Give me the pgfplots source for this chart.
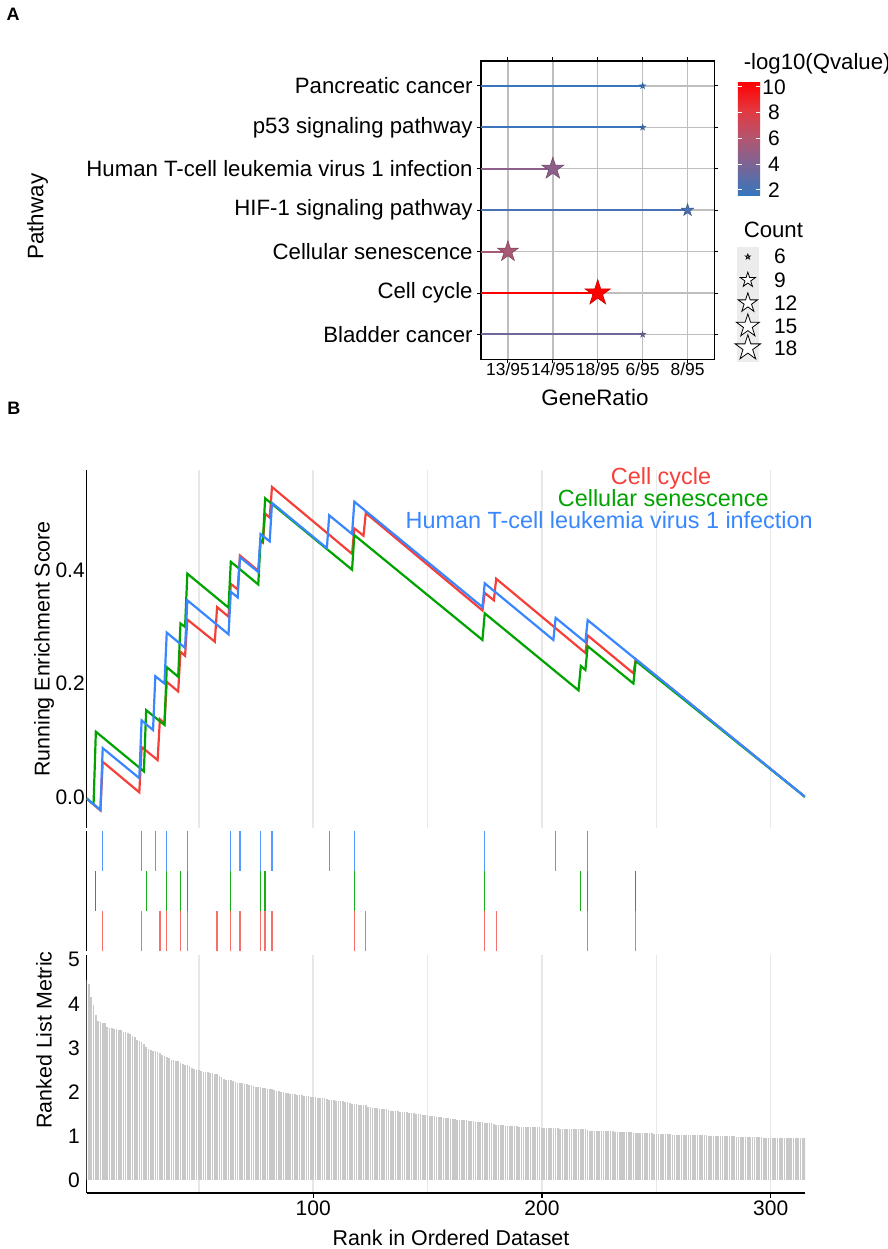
\documentclass[border=0pt]{standalone}
\usepackage{fontspec}
\setmainfont{Liberation Sans}
\usepackage{pgfplots}
\pgfplotsset{compat=1.18}
\usepackage{pgfplotstable}
\usetikzlibrary{calc}
\pgfkeys{/pgf/number format/assume math mode=true}

\definecolor{esred}{RGB}{245,64,58}
\definecolor{esgreen}{RGB}{0,163,0}
\definecolor{esblue}{RGB}{56,135,255}
\definecolor{gridA}{RGB}{190,190,190}
\definecolor{gridB}{RGB}{232,232,232}
\definecolor{barg}{RGB}{200,200,200}
\definecolor{keybg}{RGB}{236,236,236}

\newcommand\FS[1]{\fontsize{#1}{#1}\selectfont}

% filled five-pointed star
\pgfdeclareplotmark{gstar}{%
  \pgfpathmoveto{\pgfpointpolar{90}{\pgfplotmarksize}}%
  \pgfpathlineto{\pgfpointpolar{126}{0.382*\pgfplotmarksize}}%
  \pgfpathlineto{\pgfpointpolar{162}{\pgfplotmarksize}}%
  \pgfpathlineto{\pgfpointpolar{198}{0.382*\pgfplotmarksize}}%
  \pgfpathlineto{\pgfpointpolar{234}{\pgfplotmarksize}}%
  \pgfpathlineto{\pgfpointpolar{270}{0.382*\pgfplotmarksize}}%
  \pgfpathlineto{\pgfpointpolar{306}{\pgfplotmarksize}}%
  \pgfpathlineto{\pgfpointpolar{342}{0.382*\pgfplotmarksize}}%
  \pgfpathlineto{\pgfpointpolar{18}{\pgfplotmarksize}}%
  \pgfpathlineto{\pgfpointpolar{54}{0.382*\pgfplotmarksize}}%
  \pgfpathclose
  \pgfusepathqfillstroke
}

\pgfplotsset{
  colormap={qv}{rgb255=(54,118,190) rgb255=(118,102,152) rgb255=(178,86,112) rgb255=(228,56,64) rgb255=(255,0,0)},
}

% panel A: x = GeneRatio category, y = pathway, q = -log10(Qvalue), s = star radius (Count)
\pgfplotstableread{
x y q s
4 7 1.7 1.5
4 6 1.8 1.5
2 5 4.6 5.75
5 4 2.3 3.2
1 3 5.6 5.45
3 2 10.4 6.7
4 1 3.6 1.5
}\lolli

\pgfplotstableread{
y s
-256.7 1.3
-280 3.95
-303 5.1
-326 6.05
-348 6.65
}\countkey

% ranked list metric, rank 1..315
\pgfplotstableread[row sep=\\]{m\\
4.55\\4.45\\4.15\\3.97\\3.75\\3.62\\3.58\\3.57\\3.56\\3.48\\
3.45\\3.44\\3.43\\3.42\\3.41\\3.40\\3.37\\3.36\\3.34\\3.32\\
3.27\\3.25\\3.18\\3.16\\3.14\\3.08\\3.02\\2.98\\2.95\\2.93\\
2.92\\2.90\\2.88\\2.83\\2.81\\2.79\\2.78\\2.73\\2.72\\2.71\\
2.70\\2.66\\2.64\\2.62\\2.60\\2.58\\2.55\\2.51\\2.50\\2.49\\
2.47\\2.46\\2.45\\2.44\\2.43\\2.42\\2.41\\2.40\\2.36\\2.33\\
2.30\\2.28\\2.27\\2.26\\2.25\\2.22\\2.21\\2.20\\2.19\\2.18\\
2.17\\2.16\\2.15\\2.14\\2.12\\2.11\\2.10\\2.09\\2.08\\2.07\\
2.07\\2.06\\2.05\\2.02\\2.01\\2.00\\1.99\\1.98\\1.97\\1.96\\
1.95\\1.94\\1.93\\1.92\\1.92\\1.91\\1.90\\1.90\\1.89\\1.88\\
1.88\\1.87\\1.87\\1.86\\1.85\\1.83\\1.82\\1.82\\1.81\\1.80\\
1.80\\1.79\\1.79\\1.78\\1.77\\1.74\\1.73\\1.72\\1.72\\1.71\\
1.71\\1.70\\1.69\\1.66\\1.65\\1.64\\1.63\\1.63\\1.62\\1.61\\
1.60\\1.60\\1.58\\1.57\\1.57\\1.56\\1.56\\1.55\\1.55\\1.54\\
1.54\\1.53\\1.53\\1.52\\1.50\\1.49\\1.49\\1.48\\1.48\\1.47\\
1.46\\1.45\\1.44\\1.43\\1.43\\1.42\\1.41\\1.41\\1.40\\1.39\\
1.38\\1.38\\1.37\\1.36\\1.36\\1.35\\1.35\\1.34\\1.33\\1.33\\
1.32\\1.32\\1.31\\1.31\\1.30\\1.30\\1.29\\1.29\\1.26\\1.25\\
1.25\\1.24\\1.24\\1.23\\1.23\\1.23\\1.22\\1.22\\1.22\\1.21\\
1.21\\1.21\\1.20\\1.20\\1.20\\1.19\\1.19\\1.19\\1.19\\1.18\\
1.18\\1.18\\1.18\\1.17\\1.17\\1.17\\1.17\\1.16\\1.16\\1.16\\
1.16\\1.16\\1.15\\1.15\\1.15\\1.15\\1.15\\1.15\\1.15\\1.14\\
1.12\\1.12\\1.12\\1.11\\1.11\\1.11\\1.11\\1.10\\1.10\\1.10\\
1.10\\1.09\\1.09\\1.09\\1.09\\1.08\\1.08\\1.08\\1.08\\1.07\\
1.07\\1.07\\1.07\\1.06\\1.06\\1.06\\1.06\\1.06\\1.05\\1.05\\
1.05\\1.05\\1.04\\1.04\\1.04\\1.04\\1.03\\1.03\\1.03\\1.03\\
1.03\\1.02\\1.02\\1.02\\1.02\\1.02\\1.01\\1.01\\1.01\\1.01\\
1.01\\1.01\\1.00\\1.00\\1.00\\1.00\\1.00\\1.00\\1.00\\0.99\\
0.99\\0.99\\0.99\\0.99\\0.98\\0.98\\0.98\\0.98\\0.98\\0.98\\
0.97\\0.97\\0.97\\0.97\\0.97\\0.97\\0.96\\0.96\\0.96\\0.96\\
0.96\\0.96\\0.96\\0.95\\0.95\\0.95\\0.95\\0.95\\0.95\\0.95\\
0.94\\0.94\\0.94\\0.94\\0.94\\
}\metric

\begin{document}
\begin{tikzpicture}
\path[use as bounding box] (0,0) rectangle (444pt,-624.5pt);

%% ---------------- panel A ----------------
\begin{axis}[
  at={(240.5pt,-179.65pt)}, anchor=south west, scale only axis,
  width=116.75pt, height=149.15pt,
  xmin=0.4, xmax=5.6, ymin=0.4, ymax=7.6,
  xtick={1,2,3,4,5}, xticklabels={13/95,14/95,18/95,6/95,8/95},
  ytick={1,...,7},
  yticklabels={Bladder cancer,Cell cycle,Cellular senescence,HIF-1 signaling pathway,Human T-cell leukemia virus 1 infection,p53 signaling pathway,Pancreatic cancer},
  grid=major, grid style={gridA, line width=0.75pt},
  axis line style={black, line width=0.6pt},
  tick align=outside, major tick length=2pt, tick style={black, line width=0.5pt},
  xticklabel style={font=\FS{8.7}, inner sep=0pt, yshift=0.3pt},
  yticklabel style={font=\FS{11.1}, inner sep=0pt, xshift=-2pt},
  colormap name=qv, point meta min=1.6, point meta max=10.4,
  colorbar,
  colorbar style={
    at={($(parent axis.north east)+(3.1pt,-10.35pt)$)}, anchor=north west,
    scale only axis, width=11.15pt, height=56.65pt,
    ytick={2,4,6,8,10}, grid=none,
    axis line style={draw=none},
    tick align=inside, ytick pos=both, yticklabel pos=right,
    major tick length=2.2pt, ytick style={white, line width=0.6pt},
    yticklabel style={font=\FS{10.5}, inner sep=0pt, anchor=center, xshift=7pt},
  },
  clip=false,
]
\addplot[mesh, point meta=explicit, line width=1pt] coordinates {(0.4,7) [1.7] (4,7) [1.7]};
\addplot[mesh, point meta=explicit, line width=1pt] coordinates {(0.4,6) [1.8] (4,6) [1.8]};
\addplot[mesh, point meta=explicit, line width=1pt] coordinates {(0.4,5) [4.6] (2,5) [4.6]};
\addplot[mesh, point meta=explicit, line width=1pt] coordinates {(0.4,4) [2.3] (5,4) [2.3]};
\addplot[mesh, point meta=explicit, line width=1pt] coordinates {(0.4,3) [5.6] (1,3) [5.6]};
\addplot[mesh, point meta=explicit, line width=1pt] coordinates {(0.4,2) [10.4] (3,2) [10.4]};
\addplot[mesh, point meta=explicit, line width=1pt] coordinates {(0.4,1) [3.6] (4,1) [3.6]};
\addplot[scatter, only marks, mark=gstar, point meta=explicit,
  mark options={line width=0.3pt},
  visualization depends on={\thisrow{s} \as \sz},
  scatter/@pre marker code/.append style={/tikz/mark size=\sz}]
  table[x=x, y=y, meta=q] {\lolli};
\end{axis}

\node[anchor=west, font=\FS{11.1}] at (368.35pt,-31.65pt) {-log10(Qvalue)};
\node[anchor=west, font=\FS{11.1}] at (368.35pt,-115pt) {Count};

\begin{axis}[
  at={(368.35pt,-180.85pt)}, anchor=south west, scale only axis,
  width=11.15pt, height=57.5pt,
  xmin=0, xmax=1, ymin=-361.7, ymax=-246.7,
  axis lines=none, ticks=none,
  axis background/.style={fill=keybg},
  clip=false,
]
\addplot[scatter, only marks, mark=gstar,
  scatter/use mapped color={draw=black, fill=white},
  mark options={line width=0.4pt},
  visualization depends on={\thisrow{s} \as \sz},
  scatter/@pre marker code/.append style={/tikz/mark size=\sz}]
  table[x expr=0.5, y=y] {\countkey};
\node[anchor=west, font=\FS{10.5}, xshift=4pt] at (axis cs:1,-256.7) {6};
\node[anchor=west, font=\FS{10.5}, xshift=4pt] at (axis cs:1,-280) {9};
\node[anchor=west, font=\FS{10.5}, xshift=4pt] at (axis cs:1,-303) {12};
\node[anchor=west, font=\FS{10.5}, xshift=4pt] at (axis cs:1,-326) {15};
\node[anchor=west, font=\FS{10.5}, xshift=4pt] at (axis cs:1,-348) {18};
\end{axis}

\node[font=\FS{9}\bfseries] at (6.5pt,-7.25pt) {A};
\node[font=\FS{11.2}] at (297.5pt,-198.65pt) {GeneRatio};
\node[font=\FS{11.2}, rotate=90] at (18.75pt,-108.35pt) {Pathway};

%% ---------------- panel B ----------------
\node[font=\FS{9}\bfseries] at (7pt,-204pt) {B};

% running enrichment score
\begin{axis}[
  at={(43.35pt,-414pt)}, anchor=south west, scale only axis,
  width=359.15pt, height=179pt,
  xmin=1, xmax=315, ymin=-0.055, ymax=0.577,
  axis x line*=bottom, axis y line*=left,
  x axis line style={draw=none},
  y axis line style={-, black, line width=0.8pt},
  xtick={100,200,300}, minor xtick={50,150,250},
  xticklabels={,,}, xmajorgrids, xminorgrids,
  major tick length=0pt, minor tick length=0pt, tick style={draw=none},
  grid style={gridB, line width=0.75pt}, minor grid style={gridB, line width=0.75pt},
  ytick={0,0.2,0.4}, yticklabels={0.0,0.2,0.4},
  yticklabel style={font=\FS{10.5}, inner sep=0pt, xshift=-0.8pt},
]
\addplot[esred, line width=1.1pt] coordinates {
(1,-0.003) (7,-0.024) (8,0.062) (24,0.008) (25,0.088) (32,0.065) (33,0.137) (35,0.130)
(36,0.203) (41,0.186) (42,0.256) (44,0.249) (45,0.313) (57,0.274) (58,0.335) (63,0.318)
(64,0.376) (67,0.366) (68,0.426) (76,0.399) (77,0.452) (78,0.449) (79,0.500) (81,0.493)
(82,0.547) (117,0.429) (118,0.474) (122,0.461) (123,0.501) (174,0.329) (175,0.360)
(179,0.347) (180,0.385) (219,0.254) (220,0.285) (240,0.218) (241,0.243) (315,0)
};
\addplot[esgreen, line width=1.1pt] coordinates {
(1,-0.003) (4,-0.013) (5,0.115) (26,0.045) (27,0.153) (35,0.127) (36,0.229) (41,0.212)
(42,0.306) (44,0.300) (45,0.394) (63,0.334) (64,0.415) (76,0.375) (77,0.453) (78,0.450)
(79,0.527) (117,0.401) (118,0.462) (174,0.277) (175,0.324) (216,0.188) (217,0.231)
(219,0.224) (220,0.266) (240,0.200) (241,0.240) (315,0)
};
\addplot[esblue, line width=1.1pt] coordinates {
(1,-0.003) (7,-0.023) (8,0.086) (24,0.033) (25,0.135) (30,0.118) (31,0.213) (35,0.200)
(36,0.290) (44,0.263) (45,0.347) (63,0.287) (64,0.362) (67,0.352) (68,0.423) (76,0.397)
(77,0.464) (81,0.451) (82,0.519) (106,0.439) (107,0.497) (117,0.464) (118,0.521)
(174,0.335) (175,0.377) (205,0.277) (206,0.316) (219,0.273) (220,0.312) (315,0)
};
\end{axis}

% hit positions
\begin{axis}[
  at={(43.35pt,-475.5pt)}, anchor=south west, scale only axis,
  width=359.15pt, height=60pt,
  xmin=1, xmax=315, ymin=0, ymax=3,
  axis x line*=bottom, axis y line*=left,
  x axis line style={draw=none},
  y axis line style={-, black, line width=0.8pt},
  ticks=none,
]
\addplot[esblue!85, only marks, mark=|, mark size=10pt, mark options={line width=0.65pt}] coordinates {
(8,2.5) (25,2.5) (31,2.5) (36,2.5) (45,2.5) (64,2.5) (68,2.5) (77,2.5) (82,2.5) (107,2.5)
(118,2.5) (175,2.5) (206,2.5) (220,2.5)
};
\addplot[esgreen!90, only marks, mark=|, mark size=10pt, mark options={line width=0.65pt}] coordinates {
(5,1.5) (27,1.5) (36,1.5) (42,1.5) (45,1.5) (64,1.5) (77,1.5) (79,1.5) (118,1.5) (175,1.5)
(217,1.5) (220,1.5) (241,1.5)
};
\addplot[esred!75, only marks, mark=|, mark size=10pt, mark options={line width=0.65pt}] coordinates {
(8,0.5) (25,0.5) (33,0.5) (36,0.5) (42,0.5) (45,0.5) (58,0.5) (64,0.5) (68,0.5) (77,0.5)
(79,0.5) (82,0.5) (118,0.5) (123,0.5) (175,0.5) (180,0.5) (220,0.5) (241,0.5)
};
\end{axis}

% ranked list metric
\begin{axis}[
  at={(43.35pt,-596.5pt)}, anchor=south west, scale only axis,
  width=359.15pt, height=119pt,
  xmin=1, xmax=315, ymin=-0.3, ymax=5.11,
  axis x line*=bottom, axis y line*=left,
  axis line style={-, black, line width=0.8pt},
  xtick={100,200,300}, minor xtick={50,150,250},
  xmajorgrids, xminorgrids,
  grid style={gridB, line width=0.75pt}, minor grid style={gridB, line width=0.75pt},
  tick align=outside, major tick length=2.5pt, minor tick length=0pt,
  minor tick style={draw=none},
  xtick style={black, line width=0.6pt}, ytick style={draw=none},
  xticklabel style={font=\FS{10.5}, inner sep=0pt, yshift=-1.25pt},
  ytick={0,1,2,3,4,5},
  yticklabel style={font=\FS{10.5}, inner sep=0pt, xshift=-0.8pt},
]
\addplot[ycomb, barg, line width=0.8pt, no marks] table[x expr=\coordindex+1, y=m] {\metric};
\end{axis}

% panel B titles and set names
\node[font=\FS{10.7}, rotate=90] at (22pt,-324.5pt) {Running Enrichment Score};
\node[font=\FS{10.7}, rotate=90] at (22pt,-520pt) {Ranked List Metric};
\node[font=\FS{10.7}] at (225.5pt,-619pt) {Rank in Ordered Dataset};

\node[font=\FS{11.7}, text=esred] at (330.5pt,-239.15pt) {Cell cycle};
\node[font=\FS{11.7}, text=esgreen] at (331.65pt,-249.15pt) {Cellular senescence};
\node[font=\FS{11.7}, text=esblue] at (304.6pt,-260pt) {Human T-cell leukemia virus 1 infection};
\end{tikzpicture}
\end{document}
